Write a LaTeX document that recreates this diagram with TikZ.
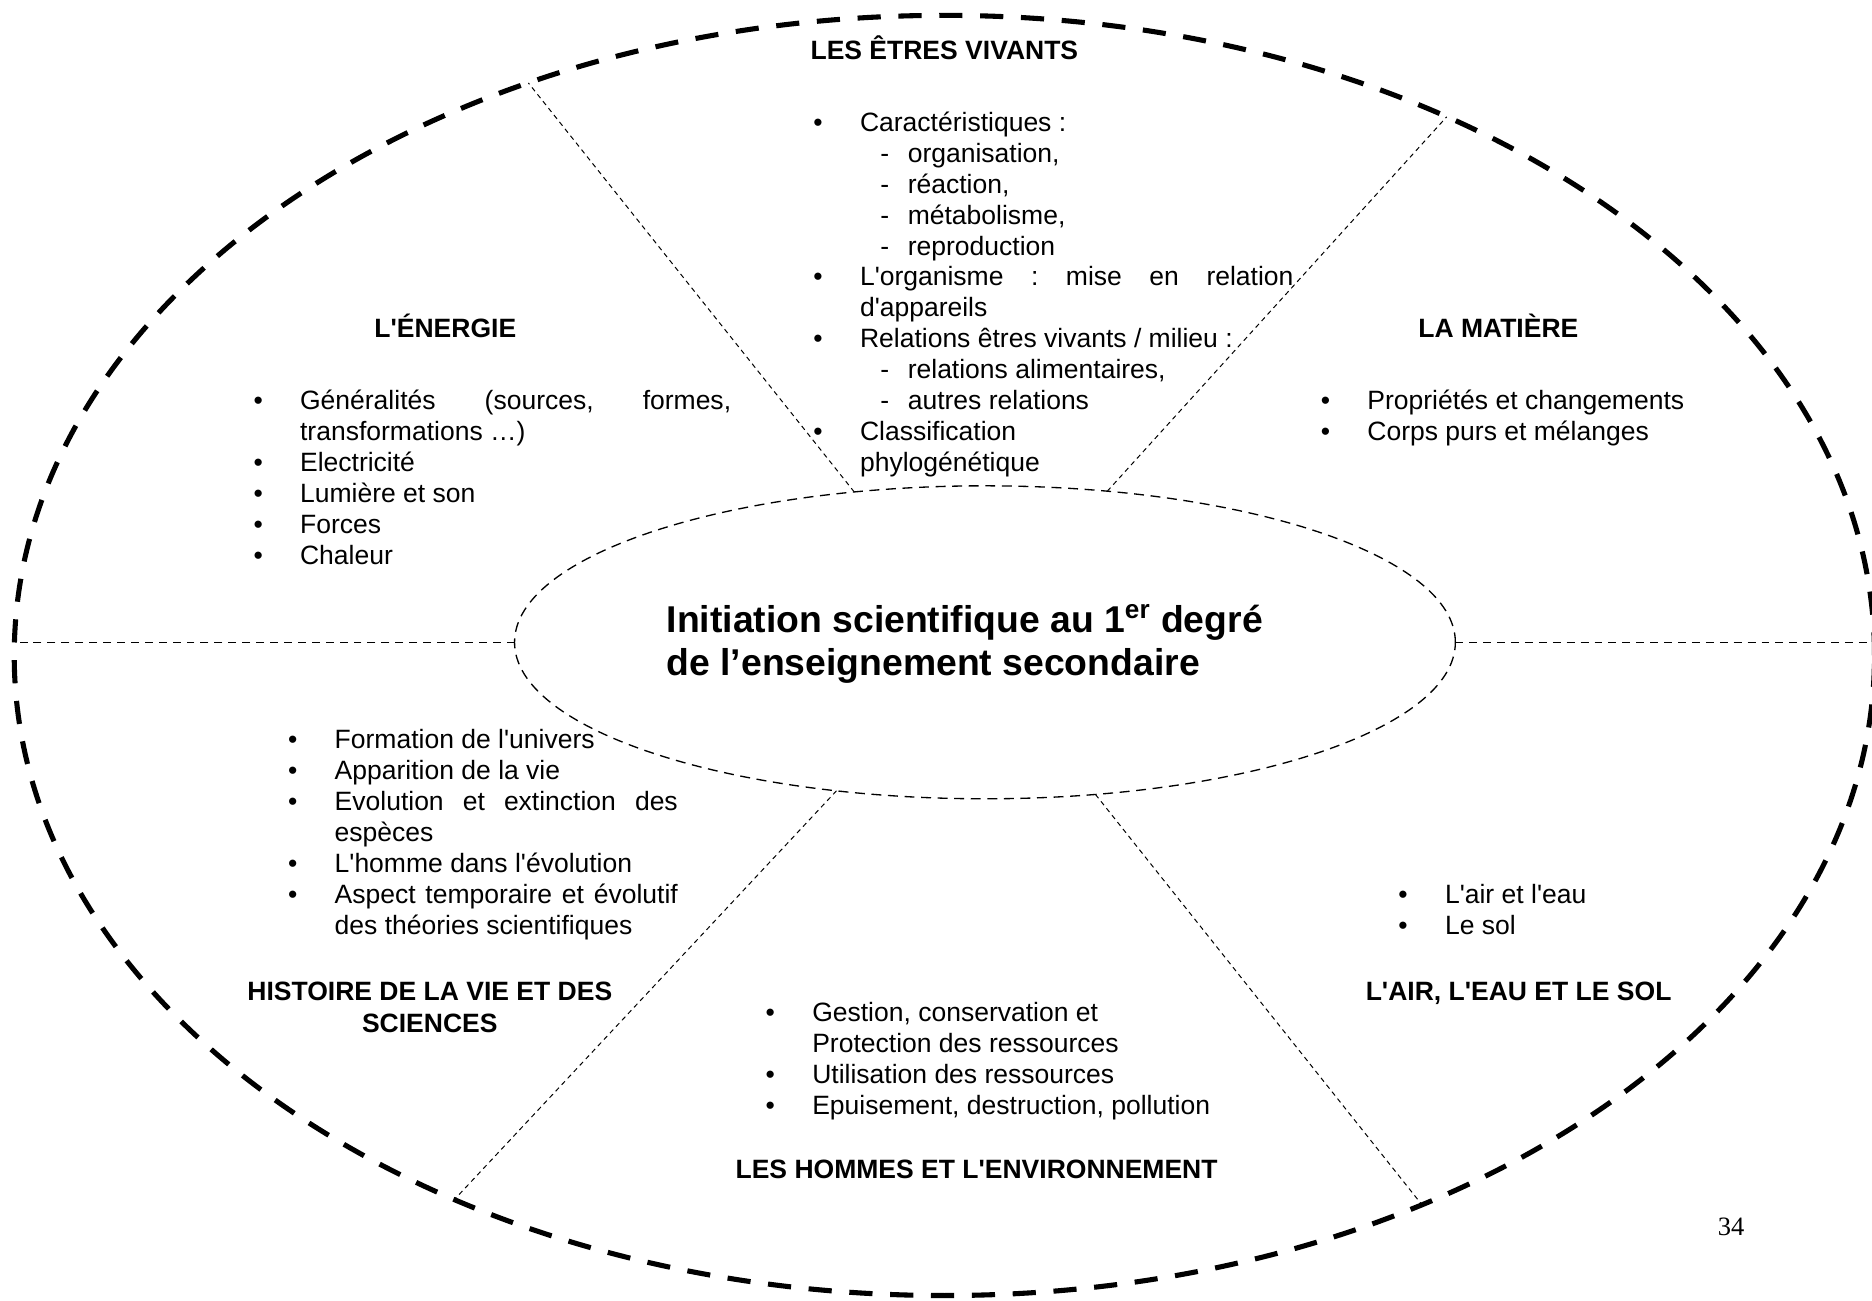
\documentclass[tikz,border=0pt]{standalone}
\usepackage{fontspec}
\setmainfont{Liberation Sans}[Ligatures=TeXOff]
\newfontfamily\pagefont{Liberation Serif}
\usetikzlibrary{shapes.geometric}
\newlength\bltw
\setlength\bltw{0.741cm}
\newcommand\bul{\hangindent=\bltw\hangafter=1\noindent\makebox[\bltw][l]{\textbullet}}
\newcommand\itm{\par\bul}
\newcommand\subitm{\par\hangindent=1.501cm\hangafter=1\noindent\hspace*{1.064cm}\makebox[0.437cm][l]{-}}
\newcommand\nl{\hfil\break}
\hyphenpenalty=10000

\begin{document}
\begin{tikzpicture}[x=0.019cm,y=-0.019cm,
    rim/.style={ellipse,draw,line width=2.3pt,dash pattern=on 10.5pt off 8pt,minimum width=29.6cm,minimum height=20.37cm,inner sep=0pt,outer sep=0pt},
    core/.style={ellipse,draw,line width=0.6pt,dash pattern=on 4.5pt off 3pt,minimum width=14.97cm,minimum height=4.98cm,inner sep=0pt,outer sep=0pt},
    split/.style={line width=0.7pt,dash pattern=on 3.6pt off 2.7pt},
    spoke/.style={line width=0.45pt,dash pattern=on 2.2pt off 1.8pt},
    theme/.style={anchor=base,align=center,inner sep=0pt,font=\fontsize{12}{14.4}\selectfont\bfseries},
    lst/.style={anchor=base west,inner sep=0pt,align=justify,font=\fontsize{12}{14}\selectfont,
      execute at begin node={\setlength\baselineskip{14pt}\setlength\parskip{0pt}\hyphenpenalty=10000\tolerance=10000\frenchspacing}},
    maintitle/.style={anchor=base west,align=left,inner sep=0pt,font=\fontsize{16.9}{19.45}\selectfont\bfseries}]
  \useasboundingbox (0,0) rectangle (1568,1089);
  \node[rim]  (rim)  at (791,549) {};
  \node[core] (core) at (825,538) {};
  \draw[split] (core.west) -- (core.west -| rim.west);
  \draw[split] (core.east) -- (core.east -| rim.east);
  \draw[spoke] (core.131) -- (rim.126);
  \draw[spoke] (core.51)  -- (rim.47);
  \draw[spoke] (core.225) -- (rim.228);
  \draw[spoke] (core.306) -- (rim.311);

  \node[maintitle] (title) at (558,566) {Initiation scientifique au 1\textsuperscript{er} degré\\de l’enseignement secondaire};

  \node[theme] (vivants)  at (791,50)  {LES ÊTRES VIVANTS};
  \node[theme] (energie)  at (373,283) {L'ÉNERGIE};
  \node[theme] (matiere)  at (1255,283) {LA MATIÈRE};
  \node[theme] (histoire) at (360,865) {HISTOIRE DE LA VIE ET DES\\SCIENCES};
  \node[theme] (hommes)   at (818,987) {LES HOMMES ET L'ENVIRONNEMENT};
  \node[theme] (sol)      at (1272,838) {L'AIR, L'EAU ET LE SOL};

  \node[lst,text width=7.638cm] (vivants-list) at (681,110) {%
    \bul Caractéristiques :
    \subitm organisation,
    \subitm réaction,
    \subitm métabolisme,
    \subitm reproduction
    \itm L'organisme : mise en relation d'appareils
    \itm Relations êtres vivants / milieu :
    \subitm relations alimentaires,
    \subitm autres relations
    \itm Classification\nl phylogénétique\par};
  \node[lst,text width=7.6cm] (energie-list) at (212,343) {%
    \bul Généralités (sources, formes, transformations …)
    \itm Electricité
    \itm Lumière et son
    \itm Forces
    \itm Chaleur\par};
  \node[lst,text width=7.6cm] (matiere-list) at (1106,343) {%
    \bul Propriétés et changements
    \itm Corps purs et mélanges\par};
  \node[lst,text width=6.2cm] (histoire-list) at (241,627) {%
    \bul Formation de l'univers
    \itm Apparition de la vie
    \itm Evolution et extinction des espèces
    \itm L'homme dans l'évolution
    \itm Aspect temporaire et évolutif des théories scientifiques\par};
  \node[lst,text width=7.6cm] (hommes-list) at (641,856) {%
    \bul Gestion, conservation et\nl Protection des ressources
    \itm Utilisation des ressources
    \itm Epuisement, destruction, pollution\par};
  \node[lst,text width=5.7cm] (sol-list) at (1171,757) {%
    \bul L'air et l'eau
    \itm Le sol\par};

  \node[anchor=base,inner sep=0pt,font=\pagefont\fontsize{12}{14}\selectfont] (page) at (1450,1035) {34};
\end{tikzpicture}
\end{document}
